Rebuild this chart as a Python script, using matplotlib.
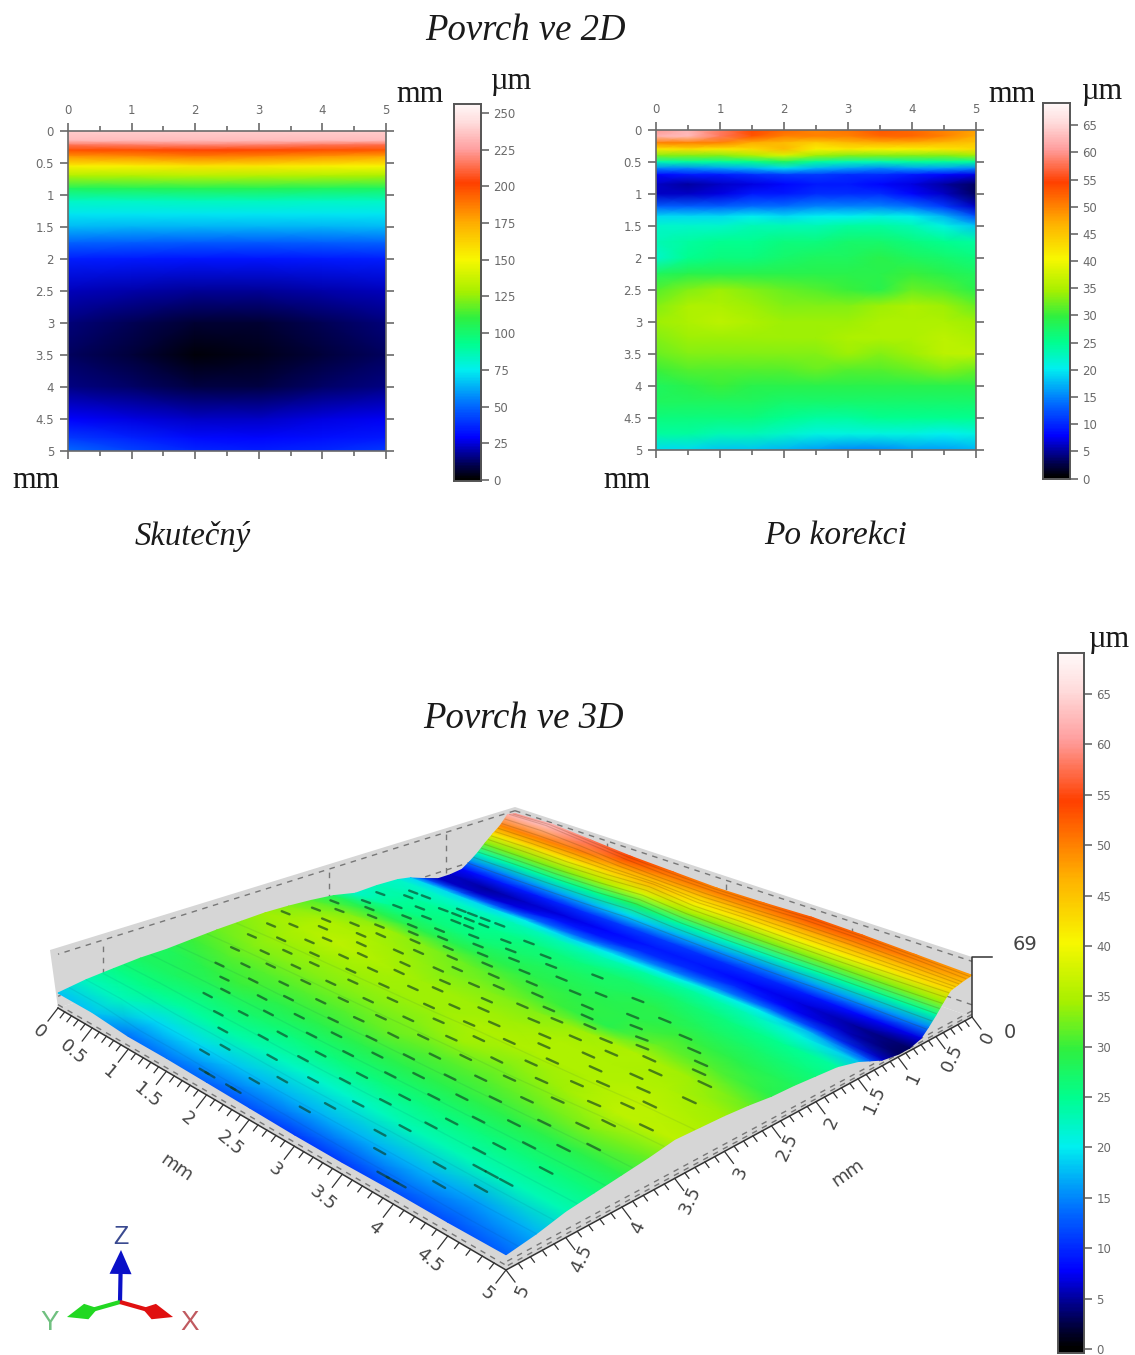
import numpy as np
import matplotlib
matplotlib.use("Agg")
import matplotlib.pyplot as plt
from matplotlib.colors import LinearSegmentedColormap
from matplotlib.collections import LineCollection
from matplotlib.patches import Polygon

W, H = 1135, 1355
# ---------------- data ----------------
raw_r = [0, .15, .22, .3, .4, .55, .7, .9, 1.1, 1.3, 1.5, 1.75, 2, 2.5, 3, 3.5, 4, 4.5, 4.8, 5]
raw_c = [0, 1, 2, 3, 4, 5]
raw_z = [
 [238,238,238,238,238,238],
 [232,232,232,232,232,232],
 [214,216,218,217,214,212],
 [198,198,202,200,198,196],
 [180,182,186,184,180,176],
 [152,152,156,155,152,150],
 [130,130,132,131,130,128],
 [103,104,105,105,103,102],
 [ 82, 82, 83, 83, 82, 82],
 [ 72, 72, 72, 72, 72, 72],
 [ 64, 63, 63, 63, 63, 64],
 [ 48, 47, 46, 46, 47, 48],
 [ 34, 33, 32, 32, 33, 34],
 [ 21, 19, 17, 17, 19, 21],
 [ 14, 10,  6,  6, 10, 14],
 [ 11,  7,  1,  3,  7, 11],
 [ 15, 12,  8,  8, 12, 15],
 [ 28, 25, 22, 22, 25, 27],
 [ 40, 35, 30, 29, 31, 33],
 [ 50, 42, 36, 34, 36, 40],
]
cor_r = [0,.1,.2,.3,.4,.5,.6,.7,.85,1,1.2,1.35,1.5,1.75,2,2.25,2.5,2.75,3,3.25,3.5,3.75,4,4.25,4.5,4.75,5]
cor_c = [0,.5,1,1.5,2,2.5,3,3.5,4,4.5,5]
cor_z = [
 [60,62,58,54,52,50,51,53,52,50,48],
 [62,63,58,53,50,50,50,52,52,50,47],
 [50,50,50,47,46,44,46,47,47,46,45],
 [42,43,42,43,46,41,42,41,41,42,43],
 [33,33,33,35,38,34,33,33,33,33,34],
 [23,24,24,25,28,24,23,23,24,24,24],
 [15,15,16,17,19,17,16,15,16,16,15],
 [ 8, 9, 9,10,11,11,10,10, 9, 8, 7],
 [ 6, 5, 6, 7, 8, 9, 9, 8, 7, 5, 3],
 [ 6, 6, 7, 9, 9,10,10,10, 8, 6, 3],
 [13,13,13,14,14,15,15,15,14,11, 6],
 [19,19,19,20,19,20,20,21,20,17,12],
 [22,22,22,23,23,23,24,24,23,21,18],
 [23,24,25,25,26,26,27,27,26,25,24],
 [22,25,26,26,27,28,28,29,28,27,26],
 [28,29,29,29,29,29,29,29,30,29,28],
 [31,33,34,33,32,31,30,29,32,31,29],
 [33,35,35,34,33,33,33,34,35,34,32],
 [34,35,36,35,34,34,34,35,35,35,34],
 [33,34,34,34,34,34,35,35,35,36,35],
 [32,33,33,33,33,33,34,33,34,36,36],
 [30,31,31,31,31,32,31,31,32,33,32],
 [28,29,30,29,29,29,29,29,29,29,29],
 [28,28,28,28,27,27,27,27,27,27,27],
 [26,26,26,26,25,24,24,25,25,25,25],
 [24,24,23,23,22,21,21,21,21,20,21],
 [19,19,18,18,17,16,15,15,16,16,17],
]
# the front of the 3D view reads lower than the 2D map: amount per row of cor_r
front_drop = [0]*23 + [1, 2, 4, 4]
# dark speckles on the 3D surface, read by eye: across position -> along positions
spot_rows = [
 (1.62, [.35, .52, .98, 1.12, 1.28, 1.46]),
 (1.74, [.42, .88, 1.05, 1.21, 1.39, 1.93]),
 (1.86, [.18, .71, 1.17, 1.33, 1.78, 2.24, 2.81]),
 (1.98, [.55, .93, 1.52, 1.96, 2.42, 3.34]),
 (2.11, [.28, .82, 1.24, 1.71, 2.13, 2.66, 3.08, 3.72]),
 (2.23, [.47, 1.03, 1.41, 1.89, 2.37, 2.92, 3.51, 4.02]),
 (2.36, [.15, .66, 1.19, 1.62, 2.08, 2.58, 3.17, 3.66, 4.21]),
 (2.49, [.38, .91, 1.36, 1.81, 2.29, 2.77, 3.29, 3.83, 4.38]),
 (2.62, [.22, .74, 1.08, 1.55, 2.01, 2.48, 3.02, 3.44, 3.95, 4.47]),
 (2.74, [.51, .97, 1.44, 1.92, 2.33, 2.86, 3.22, 3.71, 4.12, 4.62]),
 (2.87, [.12, .63, 1.13, 1.67, 2.14, 2.61, 3.11, 3.53, 3.88, 4.29]),
 (3.01, [.41, .86, 1.31, 1.76, 2.21, 2.72, 3.36, 3.79, 4.24, 4.71]),
 (3.13, [.26, .78, 1.22, 1.58, 2.06, 2.53, 2.96, 3.47, 3.97, 4.41]),
 (3.26, [.57, 1.01, 1.47, 1.87, 2.39, 2.83, 3.25, 3.68, 4.16, 4.58]),
 (3.38, [.33, .81, 1.16, 1.64, 2.11, 2.63, 3.06, 3.59, 4.03, 4.49]),
 (3.51, [.68, 1.09, 1.53, 1.98, 2.44, 2.91, 3.38, 3.82, 4.31, 4.77]),
 (3.63, [.44, .92, 1.37, 1.83, 2.27, 2.74, 3.19, 3.63, 4.09, 4.55]),
 (3.76, [.76, 1.26, 1.72, 2.17, 2.56, 3.01, 3.48, 3.93, 4.44]),
 (3.89, [.59, 1.04, 1.49, 2.03, 2.47, 2.88, 3.31, 3.76, 4.22, 4.66]),
 (4.02, [.84, 1.33, 1.79, 2.23, 2.69, 3.13, 3.57, 4.07, 4.52]),
 (4.14, [1.02, 1.57, 2.09, 2.51, 2.97, 3.42, 3.86, 4.33]),
 (4.27, [.97, 1.43, 1.91, 2.36, 2.82, 3.27, 3.74, 4.19, 4.61]),
 (4.39, [1.28, 1.84, 2.31, 2.78, 3.21, 3.67, 4.13]),
 (4.52, [1.52, 2.12, 2.59, 3.08, 3.56, 4.27, 4.38, 4.51]),
 (4.65, [1.73, 2.41, 2.94, 3.46, 4.04, 4.42]),
 (4.78, [1.66, 2.26, 2.83, 3.61, 4.18]),
 (4.93, [1.87, 1.94, 2.19, 2.25, 3.82, 3.91, 3.98]),
]
streak_r = [.03,.08,.14,.18,.23,.27,.32,.36,.41,.45,.49,.55,.62]
rib_r = [3.3,3.6,3.9,4.15,4.4,4.6,4.75,4.9]
bar_ticks_a = [0,25,50,75,100,125,150,175,200,225,250]
bar_ticks_b = [0,5,10,15,20,25,30,35,40,45,50,55,60,65]
axis_ticks = [0,.5,1,1.5,2,2.5,3,3.5,4,4.5,5]
axis_labels = ['0','0.5','1','1.5','2','2.5','3','3.5','4','4.5','5']

# ---------------- styles ----------------
cmap = LinearSegmentedColormap.from_list("surf", [
 (0,'#000000'),(.035,'#00004a'),(.11,'#0000ff'),(.2,'#0070ff'),(.29,'#00f0f0'),
 (.36,'#00ff90'),(.43,'#30f040'),(.5,'#a8f000'),(.585,'#f8f800'),(.68,'#ffb000'),
 (.79,'#ff4000'),(.88,'#ffa0a0'),(.95,'#ffdcdc'),(1,'#fff8f8')])
GREY = '#6a6a6a'
fig = plt.figure(figsize=(W/100, H/100), dpi=100, facecolor='white')

def px_axes(x0, y0, x1, y1, **kw):
    return fig.add_axes([x0/W, 1-y1/H, (x1-x0)/W, (y1-y0)/H], **kw)

def panel(x0, y0, x1, y1, C, R, Z, vmax):
    ax = px_axes(x0, y0, x1, y1)
    ax.pcolormesh(C, R, np.array(Z, float), cmap=cmap, vmin=0, vmax=vmax, shading='gouraud')
    ax.set_xlim(0, 5); ax.set_ylim(5, 0)
    ax.set_xticks(range(6)); ax.set_xticks(np.arange(.5, 5, 1), minor=True)
    ax.set_yticks(axis_ticks); ax.set_yticklabels(axis_labels)
    ax.tick_params(axis='both', which='both', color=GREY, labelcolor=GREY, labelsize=8.5, length=6, width=1.2,
                   top=True, bottom=True, left=True, right=True, labeltop=True, labelbottom=False, pad=4)
    ax.tick_params(axis='x', which='minor', length=3.5)
    for s in ax.spines.values():
        s.set_color(GREY); s.set_linewidth(1.2)

def colorbar(x0, y0, x1, y1, vmin, vmax, full, ticks):
    ax = px_axes(x0, y0, x1, y1)
    g = np.linspace(vmin, vmax, 400)[:, None]
    ax.imshow(g, cmap=cmap, vmin=0, vmax=full, origin='lower', aspect='auto', extent=[0, 1, vmin, vmax])
    ax.set_xticks([]); ax.yaxis.tick_right(); ax.set_yticks(ticks)
    ax.tick_params(axis='y', color=GREY, labelcolor=GREY, labelsize=8.5, length=6, width=1.2, pad=3)
    for s in ax.spines.values():
        s.set_color('#555555'); s.set_linewidth(1.4)

panel(68, 131, 386, 451, raw_c, raw_r, raw_z, 256)
panel(656, 130, 976, 450, cor_c, cor_r, cor_z, 69)
colorbar(454, 104, 481, 481, -.7, 256, 256, bar_ticks_a)
colorbar(1043, 103, 1070, 478.5, 0, 69.1, 69, bar_ticks_b)
colorbar(1058, 653, 1084, 1353, -.4, 69.07, 69, bar_ticks_b)

# overlay in pixel coordinates
ov = fig.add_axes([0, 0, 1, 1], zorder=5)
ov.set_xlim(0, W); ov.set_ylim(H, 0); ov.axis('off'); ov.patch.set_alpha(0)

SER = 'Liberation Serif'
def T(x, y, s, size=21, style='normal', **kw):
    ov.text(x, y, s, family=SER, fontsize=size, style=style, ha='center', va='center', color='#1a1a1a', **kw)
T(525, 31, 'Povrch ve 2D', 26.5, 'italic')
T(523, 719, 'Povrch ve 3D', 26.5, 'italic')
T(193, 536, 'Skutečný', 23.5, 'italic')
T(836, 536, 'Po korekci', 24, 'italic')
for x, y in [(420, 94), (1012, 94), (36, 481), (627, 481)]:
    T(x, y, 'mm', 22)
for x, y in [(511, 82), (1102, 92), (1109, 640)]:
    T(x, y, 'µm', 22)

# ---------------- 3D projection ----------------
B, Rc, Fr, Lf = (515, 858), (972, 1017), (506, 1270), (58, 1008)
H_B, H_R, H_F, H_L = 51, 60, 81, 58
src = [(0, 0), (1, 0), (1, 1), (0, 1)]
dst = [B, Rc, Fr, Lf]
A, b = [], []
for (u, v), (x, y) in zip(src, dst):
    A.append([u, v, 1, 0, 0, 0, -u*x, -v*x]); b.append(x)
    A.append([0, 0, 0, u, v, 1, -u*y, -v*y]); b.append(y)
h = np.linalg.solve(np.array(A, float), np.array(b, float))

def project(c, r, z=0.0):
    u, v = np.asarray(c, float)/5, np.asarray(r, float)/5
    w = h[6]*u + h[7]*v + 1
    x = (h[0]*u + h[1]*v + h[2])/w
    y = (h[3]*u + h[4]*v + h[5])/w
    sc = H_B*(1-u)*(1-v) + H_R*u*(1-v) + H_F*u*v + H_L*(1-u)*v
    return x, y - sc*np.asarray(z, float)/69

Zc = np.array(cor_z, float) - np.array(front_drop, float)[:, None]
Zc[:, :2] += np.array(front_drop, float)[:, None]*.7
CC, RR = np.meshgrid(cor_c, cor_r)
def surf_z(c, r):
    col = [np.interp(r, cor_r, Zc[:, j]) for j in range(len(cor_c))]
    return np.interp(c, cor_c, col)

# walls and floor
WALL = '#d6d6d6'
def corner(c, r, z=0): return tuple(float(a) for a in project(c, r, z))
ov.add_patch(Polygon([(50, 950), corner(0, 0, 69), corner(0, 0, 0), corner(0, 5, 0)], fc=WALL, ec='none', zorder=1))
ov.add_patch(Polygon([corner(0, 0, 69), corner(5, 0, 69), corner(5, 0, 0), corner(0, 0, 0)], fc=WALL, ec='none', zorder=1))
ov.add_patch(Polygon([corner(0, 0), corner(5, 0), corner(5, 5), corner(0, 5)], fc=WALL, ec='none', zorder=1))
edge = np.linspace(0, 5, 2)
def dash(c, r, z, zo=2):
    ov.plot(*project(c, r, z), color='#777777', lw=1, ls=(0, (4, 4)), zorder=zo)
dash(edge, edge*0, 64); dash(edge, edge*0, 14)
dash(edge*0, edge, 64); dash(edge*0, edge, 14)
dash(edge, edge*0+5, 4, 4); dash(edge*0+5, edge, 7, 2); dash(edge*0+5, edge, 3, 2)
for c0 in [1.2, 2.6, 3.9]:
    dash(np.array([c0, c0]), np.array([0, 0]), np.array([10, 62]))
for r0 in [.9, 2.3, 4.6]:
    dash(np.array([0, 0]), np.array([r0, r0]), np.array([10, 62]))

# surface
PX, PY = project(CC, RR, Zc)
ov.pcolormesh(PX, PY, Zc, cmap=cmap, vmin=0, vmax=69, shading='gouraud', zorder=3)

# streaks and speckles
ss = np.linspace(0, 5, 21)
def lines(rows):
    out = []
    for r0 in rows:
        x, y = project(ss, ss*0+r0, [surf_z(s, r0) for s in ss])
        out.append(np.column_stack([x, y]))
    return out
ov.add_collection(LineCollection(lines(streak_r), colors='#503000', linewidths=.8, alpha=.2, zorder=4))
ov.add_collection(LineCollection(lines(rib_r), colors='#003060', linewidths=.9, alpha=.08, zorder=4))
segs = []
for r0, cols in spot_rows:
    for c0 in cols:
        cs = np.array([c0-.055, c0+.055])
        x, y = project(cs, cs*0+r0, [surf_z(cs[0], r0), surf_z(cs[1], r0)])
        segs.append(np.column_stack([x, y]))
ov.add_collection(LineCollection(segs, colors='#0c3a20', linewidths=1.7, alpha=.62, capstyle='round', zorder=4))

# axes on the floor edges
LINE = '#333333'
ax_c = np.array([0, 5.])
ov.plot(*project(ax_c, ax_c*0+5), color=LINE, lw=1.1, zorder=5)
ov.plot(*project(ax_c*0+5, ax_c), color=LINE, lw=1.1, zorder=5)
for i in range(51):
    t = i/10
    major = i % 5 == 0
    x, y = project(t, 5); L = 1.0 if major else .45
    ov.plot([x, x-10*L], [y, y+13*L], color=LINE, lw=.9, zorder=5)
    x, y = project(5, t)
    ov.plot([x, x+9*L], [y, y+12*L], color=LINE, lw=.9, zorder=5)
for t, s in zip(axis_ticks, axis_labels):
    x, y = project(t, 5)
    ov.text(x-19, y+24, s, fontsize=13, color='#444444', rotation=-40, ha='center', va='center', zorder=5, rotation_mode='anchor')
    x, y = project(5, t)
    ov.text(x+16, y+21, s, fontsize=13, color='#444444', rotation=65, ha='center', va='center', zorder=5, rotation_mode='anchor')
ov.text(177, 1168, 'mm', fontsize=13, color='#444444', rotation=-35, ha='center', va='center')
ov.text(848, 1173, 'mm', fontsize=13, color='#444444', rotation=35, ha='center', va='center')
# z scale
ov.plot([992, 972, 972], [957, 957, 1017], color=LINE, lw=1.1, zorder=5)
ov.text(1025, 945, '69', fontsize=14, color='#444444', ha='center', va='center')
ov.text(1010, 1032, '0', fontsize=14, color='#444444', ha='center', va='center')

# orientation triad
def arrow(x0, y0, x1, y1, col, wid, head, back):
    d = np.array([x1-x0, y1-y0], float); ul = d/np.hypot(*d); n = np.array([-ul[1], ul[0]])
    p0 = np.array([x0, y0]); tip = np.array([x1, y1])
    base = tip - ul*head
    ov.plot([p0[0], base[0]], [p0[1], base[1]], color=col, lw=3, zorder=6, solid_capstyle='butt')
    ov.add_patch(Polygon([tip, base+n*wid, base-ul*back, base-n*wid], fc=col, ec='none', zorder=6))
arrow(120, 1302, 121, 1250, '#0a10c8', 11, 24, 0)
arrow(120, 1302, 67, 1317, '#22d822', 8, 20, 12)
arrow(120, 1302, 173, 1317, '#e01010', 8, 20, 12)
ov.text(121, 1237, 'Z', fontsize=18, color='#3a4a90', ha='center', va='center', family='Liberation Sans')
ov.text(50, 1323, 'Y', fontsize=20, color='#70c080', ha='center', va='center', family='Liberation Sans')
ov.text(190, 1323, 'X', fontsize=20, color='#c05a60', ha='center', va='center', family='Liberation Sans')

fig.savefig('out.png', dpi=100)
